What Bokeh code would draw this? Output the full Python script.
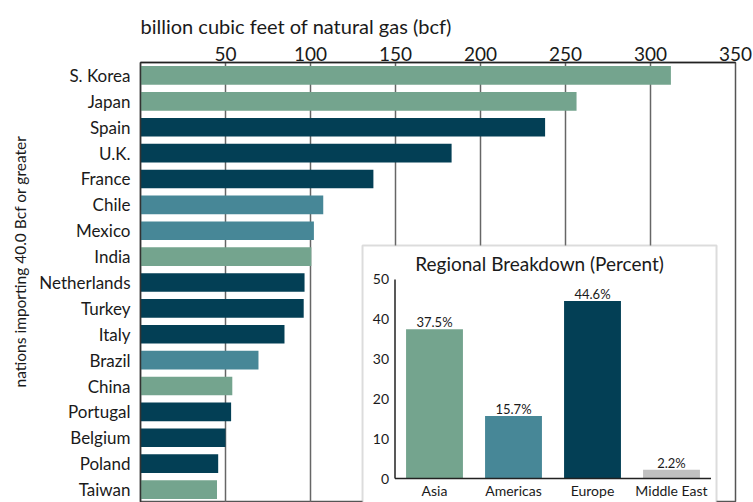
from bokeh.plotting import figure
from bokeh.models import (Range1d, FixedTicker, BoxAnnotation, Label, Title,
                          ColumnDataSource, LinearScale)
from bokeh.embed import file_html
from bokeh.resources import INLINE
from bokeh.core.properties import value

# ---------------- data ----------------
countries = ["S. Korea", "Japan", "Spain", "U.K.", "France", "Chile", "Mexico", "India",
             "Netherlands", "Turkey", "Italy", "Brazil", "China", "Portugal", "Belgium",
             "Poland", "Taiwan"]
imports_bcf = [312, 256.5, 238, 183, 137, 107.5, 102, 100.5, 96.5, 96, 84.7, 69.4,
               54, 53.3, 50, 45.7, 45]
country_region = ["Asia", "Asia", "Europe", "Europe", "Europe", "Americas", "Americas", "Asia",
                  "Europe", "Europe", "Europe", "Americas", "Asia", "Europe", "Europe",
                  "Europe", "Asia"]
x_ticks = [50, 100, 150, 200, 250, 300, 350]

regions = ["Asia", "Americas", "Europe", "Middle East"]
region_pct = [37.5, 15.7, 44.6, 2.2]
pct_labels = ["37.5%", "15.7%", "44.6%", "2.2%"]
pct_ticks = [0, 10, 20, 30, 40, 50]

region_colors = {"Asia": "#74A48E", "Americas": "#478797",
                 "Europe": "#033F55", "Middle East": "#C0C0C0"}

FONT = "Lato"
TXT = "#1a1a1a"

n = len(countries)
row_pos = [n - 1 - i for i in range(n)]   # first country at the top

# ---------------- main figure ----------------
p = figure(width=753, height=502,
           x_range=Range1d(0, 350),
           y_range=Range1d(-0.5, n - 0.5),
           x_axis_location="above",
           output_backend="svg", toolbar_location=None,
           min_border_left=140, min_border_right=18,
           min_border_top=62, min_border_bottom=0)

p.title.text = "billion cubic feet of natural gas (bcf)"
p.title.align = "left"
p.title.text_font = FONT
p.title.text_font_size = "20px"
p.title.text_font_style = "normal"
p.title.text_color = TXT
p.title.standoff = 11

p.add_layout(Title(text="nations importing 40.0 Bcf or greater", align="left",
                   offset=115, vertical_align="middle", standoff=13,
                   text_font=FONT, text_font_size="15.5px", text_font_style="normal",
                   text_color=TXT), "left")

p.outline_line_color = "#555555"
p.outline_line_width = 1.5
p.background_fill_color = "white"
p.border_fill_color = "white"

xa = p.xaxis[0]
xa.ticker = FixedTicker(ticks=x_ticks)
xa.major_tick_line_color = None
xa.minor_tick_line_color = None
xa.major_tick_out = 0
xa.major_tick_in = 0
xa.major_label_standoff = 2
xa.major_label_text_font = FONT
xa.major_label_text_font_size = "19px"
xa.major_label_text_color = TXT
xa.axis_line_color = "#222222"
xa.axis_line_width = 1.5

ya = p.yaxis[0]
ya.ticker = FixedTicker(ticks=row_pos)
ya.major_label_overrides = {pos: name for pos, name in zip(row_pos, countries)}
ya.major_tick_line_color = None
ya.minor_tick_line_color = None
ya.major_tick_out = 0
ya.major_tick_in = 0
ya.major_label_standoff = 10
ya.major_label_text_font = FONT
ya.major_label_text_font_size = "17px"
ya.major_label_text_color = TXT
ya.axis_line_color = "#333333"
ya.axis_line_width = 1.5

p.xgrid.ticker = FixedTicker(ticks=x_ticks)
p.xgrid.grid_line_color = "#666666"
p.xgrid.grid_line_width = 1.5
p.xgrid.level = "image"
p.ygrid.grid_line_color = None

src = ColumnDataSource(dict(y=row_pos, country=countries, value=imports_bcf,
                            color=[region_colors[r] for r in country_region]))
p.hbar(y="y", right="value", left=0, height=0.72, source=src,
       fill_color="color", line_color=None)

# ---------------- inset ----------------
p.extra_x_ranges = {"ix": Range1d(-3.7215, 3.8101)}
p.extra_y_ranges = {"iy": Range1d(-6.03, 104.52)}
p.extra_x_scales = {"ix": LinearScale()}
p.extra_y_scales = {"iy": LinearScale()}

p.add_layout(BoxAnnotation(left=-0.911, right=3.570, top=58.54, bottom=-20,
                           x_range_name="ix", y_range_name="iy",
                           fill_color="white", fill_alpha=1.0,
                           line_color="#8a8a8a", line_width=2, level="underlay"))

idx = list(range(len(regions)))
isrc = ColumnDataSource(dict(x=idx, pct=region_pct, lab=pct_labels, reg=regions,
                             color=[region_colors[r] for r in regions]))
p.vbar(x="x", top="pct", bottom=0, width=0.72, source=isrc,
       fill_color="color", line_color=None, x_range_name="ix", y_range_name="iy")

x_lo = idx[0] - 0.5
x_hi = idx[-1] + 0.5
p.segment(x0=[x_lo, x_lo], y0=[pct_ticks[0], pct_ticks[0]],
          x1=[x_lo, x_hi], y1=[pct_ticks[-1], pct_ticks[0]],
          line_color="#222222", line_width=1.5, x_range_name="ix", y_range_name="iy")

p.text(x=[x_lo] * len(pct_ticks), y=pct_ticks, text=[str(t) for t in pct_ticks],
       x_offset=-6, text_align="right", text_baseline="middle",
       text_font=value(FONT), text_font_size="14px", text_color=TXT,
       x_range_name="ix", y_range_name="iy")

p.text(x="x", y=0, text="reg", source=isrc, y_offset=3,
       text_align="center", text_baseline="top",
       text_font=value(FONT), text_font_size="14px", text_color=TXT,
       x_range_name="ix", y_range_name="iy")

p.text(x="x", y="pct", text="lab", source=isrc, y_offset=-7,
       text_align="center", text_baseline="alphabetic",
       text_font=value(FONT), text_font_size="13px", text_color=TXT,
       x_range_name="ix", y_range_name="iy")

p.add_layout(Label(x=(-0.911 + 3.570) / 2, y=54.0, x_range_name="ix", y_range_name="iy",
                   text="Regional Breakdown (Percent)",
                   text_align="center", text_baseline="middle",
                   text_font=FONT, text_font_size="19px", text_color=TXT))

open("out.html", "w").write(file_html(p, INLINE))
